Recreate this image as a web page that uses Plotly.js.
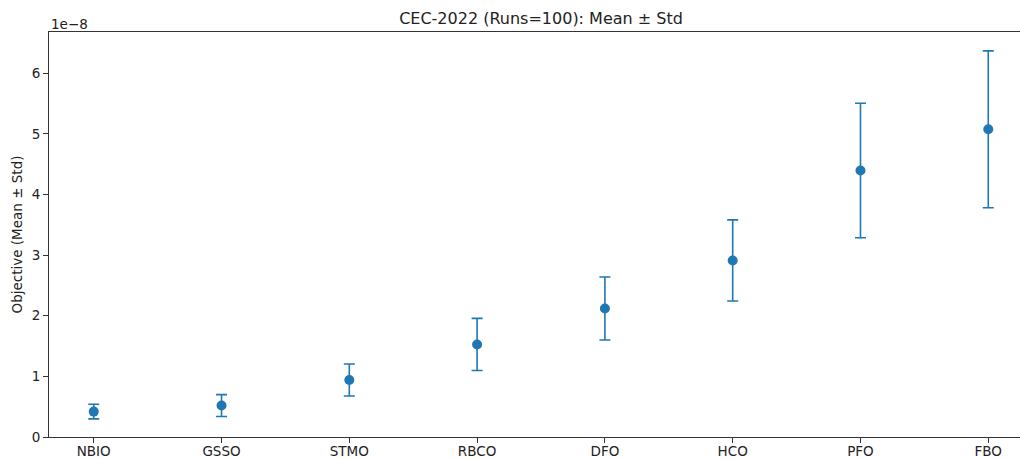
<!DOCTYPE html>
<html>
<head>
<meta charset="utf-8">
<script src="https://cdn.plot.ly/plotly-3.0.1.min.js"></script>
<style>
  html, body { margin: 0; padding: 0; width: 1020px; height: 459px; overflow: hidden; background: #fff; }
  #chart { width: 1040px; height: 459px; }
</style>
</head>
<body>
<div id="chart"></div>
<script>
// Data
const categories = ['NBIO', 'GSSO', 'STMO', 'RBCO', 'DFO', 'HCO', 'PFO', 'FBO'];
const means = [0.419e-8, 0.519e-8, 0.941e-8, 1.526e-8, 2.12e-8, 2.912e-8, 4.396e-8, 5.075e-8];
const stds  = [0.12e-8, 0.18e-8, 0.264e-8, 0.43e-8, 0.52e-8, 0.67e-8, 1.11e-8, 1.294e-8];
const yTickVals = [0, 1e-8, 2e-8, 3e-8, 4e-8, 5e-8, 6e-8];
const yTickText = ['0', '1', '2', '3', '4', '5', '6'];

const C0 = '#1f77b4';
const FONT = 'DejaVu Sans, sans-serif';
const TXT = '#222222';

const trace = {
  type: 'scatter',
  mode: 'markers',
  x: categories,
  y: means,
  marker: { color: C0, size: 10 },
  error_y: {
    type: 'data',
    array: stds,
    visible: true,
    color: C0,
    thickness: 1.6,
    width: 5.5
  },
  hoverinfo: 'x+y'
};

const layout = {
  width: 1040,
  height: 459,
  margin: { l: 49, r: 7, t: 32, b: 22 },
  paper_bgcolor: '#ffffff',
  plot_bgcolor: '#ffffff',
  showlegend: false,
  font: { family: FONT, size: 13.5, color: TXT },
  title: {
    text: 'CEC-2022 (Runs=100): Mean ± Std',
    font: { family: FONT, size: 16, color: TXT },
    xref: 'paper', x: 0.5, xanchor: 'center',
    yref: 'container', y: 1 - 18.5 / 459, yanchor: 'middle'
  },
  xaxis: {
    type: 'category',
    range: [-0.35, 7.35],
    showgrid: false,
    zeroline: false,
    showline: true, linecolor: '#333333', linewidth: 1, mirror: true,
    ticks: 'outside', ticklen: 5, tickwidth: 1, tickcolor: '#333333',
    ticklabelstandoff: -3,
    tickfont: { family: FONT, size: 13.5, color: TXT },
    automargin: false,
    fixedrange: true
  },
  yaxis: {
    range: [0, 6.68e-8],
    tickmode: 'array',
    tickvals: yTickVals,
    ticktext: yTickText,
    showgrid: false,
    zeroline: false,
    showline: true, linecolor: '#333333', linewidth: 1, mirror: true,
    ticks: 'outside', ticklen: 5, tickwidth: 1, tickcolor: '#333333',
    tickfont: { family: FONT, size: 13.5, color: TXT },
    title: { text: 'Objective (Mean ± Std)', font: { family: FONT, size: 13.5, color: TXT }, standoff: 5 },
    automargin: false,
    fixedrange: true
  },
  annotations: [{
    text: '1e\u22128',
    xref: 'paper', yref: 'paper',
    x: 0, y: 1,
    xanchor: 'left', yanchor: 'bottom',
    yshift: -2,
    showarrow: false,
    font: { family: FONT, size: 13.5, color: TXT }
  }]
};

Plotly.newPlot('chart', [trace], layout, { displayModeBar: false, responsive: false });
</script>
</body>
</html>
